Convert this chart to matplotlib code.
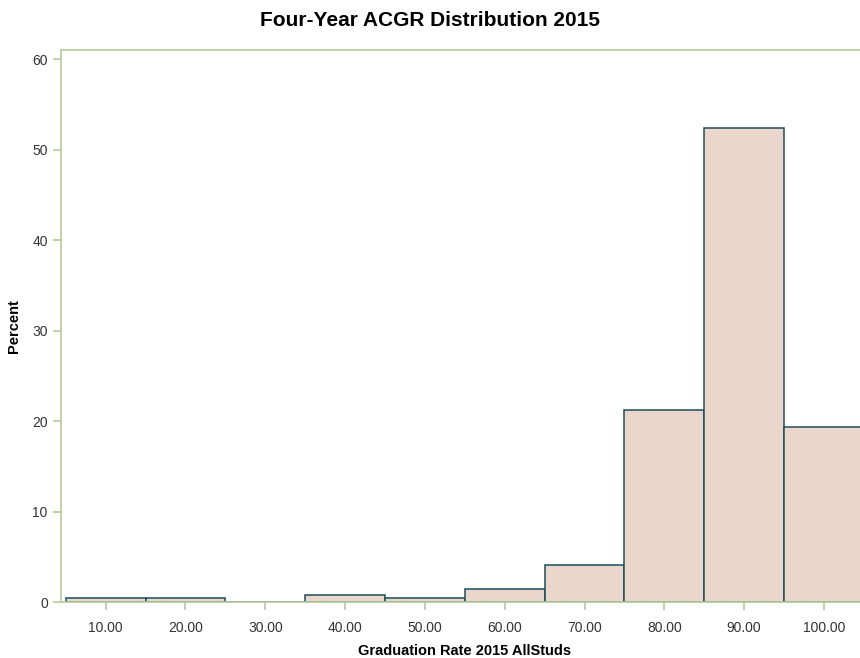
import matplotlib
matplotlib.use("Agg")
import matplotlib.pyplot as plt

# bin midpoints and percent per bin
midpoints = [10, 20, 30, 40, 50, 60, 70, 80, 90, 100]
percent = [0.4, 0.4, 0.0, 0.8, 0.4, 1.4, 4.1, 21.2, 52.4, 19.3]
tick_labels = ["10.00", "20.00", "30.00", "40.00", "50.00",
               "60.00", "70.00", "80.00", "90.00", "100.00"]
y_ticks = [0, 10, 20, 30, 40, 50, 60]

plt.rcParams["font.family"] = ["Liberation Sans", "DejaVu Sans"]

AXIS_C = "#b4cc9c"
FACE = "#ebd6cc"
EDGE = "#1d4d5c"

fig = plt.figure(figsize=(8.6, 6.58), dpi=100)
ax = fig.add_axes([61 / 860, 1 - 602 / 658, 1 - 61 / 860 + 0.01, (602 - 50) / 658])

ax.bar(midpoints, percent, width=10, color=FACE, edgecolor=EDGE, linewidth=1.1,
       align="center", zorder=2)

ax.set_xlim(4.4, 105.6)
ax.set_ylim(0, 61)
ax.set_xticks(midpoints)
ax.set_xticklabels(tick_labels)
ax.set_yticks(y_ticks)

for s in ["left", "top", "bottom"]:
    ax.spines[s].set_color(AXIS_C)
    ax.spines[s].set_linewidth(1.2)
ax.spines["right"].set_visible(False)
ax.tick_params(axis="both", colors=AXIS_C, labelcolor="#333333", labelsize=10,
               length=6, width=1.2)
ax.tick_params(axis="x", pad=8)

ax.set_xlabel("Graduation Rate 2015 AllStuds", fontsize=10.5, fontweight="bold", labelpad=6)
ax.set_ylabel("Percent", fontsize=10.5, fontweight="bold", labelpad=8)
fig.text(0.5, 1 - 21 / 658, "Four-Year ACGR Distribution 2015", ha="center", va="center",
         fontsize=15, fontweight="bold")

fig.savefig("out.png", dpi=100)
